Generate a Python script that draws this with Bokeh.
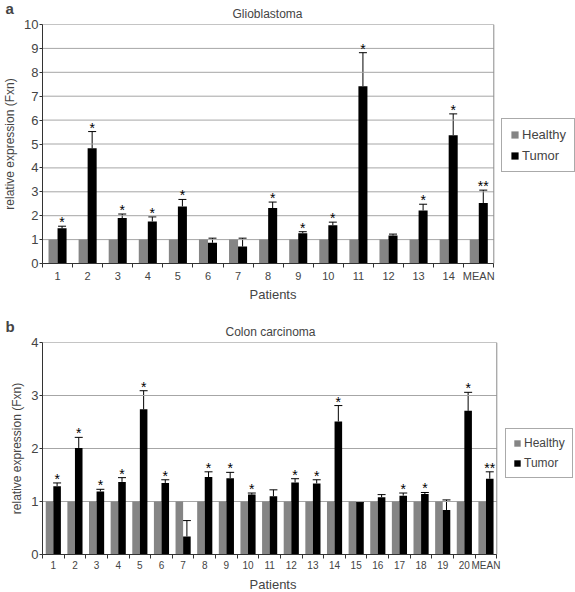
import numpy as np
from bokeh.plotting import figure
from bokeh.models import (ColumnDataSource, Range1d, FixedTicker, Legend, LegendItem,
                          Whisker, TeeHead, Title)
from bokeh.transform import dodge
from bokeh.layouts import column
from bokeh.core.properties import value
from bokeh.embed import file_html
from bokeh.resources import INLINE

# ---- Panel a: Glioblastoma ----
cats_a = ["1", "2", "3", "4", "5", "6", "7", "8", "9", "10", "11", "12", "13", "14", "MEAN"]
healthy_a = [1.0] * 15
tumor_a = [1.47, 4.82, 1.90, 1.76, 2.39, 0.87, 0.71, 2.32, 1.27, 1.60, 7.42, 1.17, 2.22, 5.37, 2.53]
err_a = [1.56, 5.52, 2.07, 1.95, 2.68, 1.06, 1.06, 2.57, 1.33, 1.73, 8.82, 1.23, 2.48, 6.26, 3.07]
star_a = ["*", "*", "*", "*", "*", "", "", "*", "*", "*", "*", "", "*", "*", "**"]

# ---- Panel b: Colon carcinoma ----
cats_b = [str(i) for i in range(1, 21)] + ["MEAN"]
healthy_b = [1.0] * 21
tumor_b = [1.29, 2.01, 1.19, 1.37, 2.74, 1.35, 0.34, 1.46, 1.44, 1.13, 1.10, 1.36, 1.34, 2.51,
           0.97, 1.08, 1.11, 1.14, 0.84, 2.71, 1.43]
err_b = [1.35, 2.21, 1.23, 1.45, 3.09, 1.41, 0.64, 1.56, 1.55, 1.16, 1.22, 1.43, 1.41, 2.81,
         0.98, 1.13, 1.16, 1.17, 1.03, 3.06, 1.56]
star_b = ["*", "*", "*", "*", "*", "*", "", "*", "*", "*", "", "*", "*", "*",
          "", "", "*", "*", "", "*", "**"]

FONT = "Liberation Sans"
W = 575
LEFT = 40


def make_panel(letter, title, cats, healthy, tumor, err, stars, ymax, height,
               border_top, border_bottom, data_px, bw, tick_size, tick_standoff,
               xlab_standoff, leg_font, leg_pad, leg_glyph, leg_loc, title_offset,
               title_standoff, letter_standoff):
    n = len(cats)
    frame_w = W - LEFT
    x_end = -0.5 + frame_w * n / data_px      # frame extends right to hold the legend
    src = ColumnDataSource(dict(x=np.arange(n), h=healthy, t=tumor, e=err, s=stars))
    p = figure(width=W, height=height, output_backend="svg", toolbar_location=None,
               x_range=Range1d(-0.5, x_end), y_range=Range1d(0, ymax),
               min_border_left=LEFT, min_border_right=0,
               min_border_top=border_top, min_border_bottom=border_bottom)
    # panel letter (outermost title, overlapping the title line)
    p.title.text = letter
    p.title.align = "left"
    p.title.offset = -37
    p.title.vertical_align = "bottom"
    p.title.standoff = letter_standoff
    p.title.text_font = FONT
    p.title.text_font_size = "15px"
    p.title.text_font_style = "bold"
    # chart title (next to the plot area)
    p.add_layout(Title(text=title, align="left", offset=title_offset, vertical_align="top",
                       standoff=title_standoff, text_font=FONT, text_font_size="12px",
                       text_font_style="normal"), "above")

    p.outline_line_color = None
    p.xgrid.grid_line_color = None
    p.ygrid.grid_line_color = None

    # horizontal grid lines and plot-area box over the category span only
    yt = list(range(1, ymax))
    p.segment(x0=[-0.5] * len(yt), x1=[n - 0.5] * len(yt), y0=yt, y1=yt,
              line_color="#a6a6a6", line_width=1)

    rh = p.vbar(x=dodge("x", -bw / 2, range=p.x_range), top="h", width=bw, source=src,
                fill_color="#858585", line_color=None)
    rt = p.vbar(x=dodge("x", bw / 2, range=p.x_range), top="t", width=bw, source=src,
                fill_color="#000000", line_color=None)
    p.quad(left=[-0.5], right=[n - 0.5], bottom=[0], top=[ymax], fill_color=None,
           line_color="#8a8a8a", line_width=1)
    p.add_layout(Whisker(base=dodge("x", bw / 2, range=p.x_range), lower="t", upper="e",
                         source=src, dimension="height", line_color="#000000", line_width=1,
                         lower_head=None, upper_head=TeeHead(size=8, line_color="#000000")))
    p.text(x=dodge("x", bw / 2, range=p.x_range), y="e", text="s", source=src,
           text_font=value(FONT), text_font_size="14px", text_align="center",
           text_baseline="bottom", y_offset=4)

    # x axis: labels at category centres, tick marks at category boundaries
    p.xaxis.bounds = (-0.5, n - 0.5)
    p.xaxis.ticker = FixedTicker(ticks=list(range(n)),
                                 minor_ticks=[i + 0.5 for i in range(-1, n)])
    p.xaxis.major_label_overrides = {i: c for i, c in enumerate(cats)}
    p.xaxis.major_tick_line_color = None
    p.xaxis.major_tick_in = 0
    p.xaxis.major_tick_out = 4
    p.xaxis.minor_tick_in = 0
    p.xaxis.minor_tick_out = 4
    p.xaxis.minor_tick_line_color = "#333333"
    p.xaxis.axis_line_color = "#333333"
    p.xaxis.major_label_text_font = FONT
    p.xaxis.major_label_text_font_size = tick_size
    p.xaxis.major_label_standoff = tick_standoff
    # x-axis title centred under the category span
    p.add_layout(Title(text="Patients", align="left", offset=207, vertical_align="bottom",
                       standoff=xlab_standoff, text_font=FONT, text_font_size="13px",
                       text_font_style="normal"), "below")

    p.yaxis.ticker = FixedTicker(ticks=list(range(0, ymax + 1)))
    p.yaxis.minor_tick_line_color = None
    p.yaxis.major_tick_in = 0
    p.yaxis.major_tick_out = 3
    p.yaxis.major_tick_line_color = "#333333"
    p.yaxis.axis_line_color = "#333333"
    p.yaxis.major_label_text_font = FONT
    p.yaxis.major_label_text_font_size = "13px"
    p.yaxis.major_label_standoff = 1
    p.yaxis.axis_label = "relative expression (Fxn)"
    p.yaxis.axis_label_text_font = FONT
    p.yaxis.axis_label_text_font_size = "12px"
    p.yaxis.axis_label_text_font_style = "normal"
    p.yaxis.axis_label_standoff = 4

    legend = Legend(items=[LegendItem(label="Healthy", renderers=[rh]),
                           LegendItem(label="Tumor", renderers=[rt])],
                    location=leg_loc, orientation="vertical",
                    border_line_color="#555555", border_line_width=1,
                    label_text_font=FONT, label_text_font_size=leg_font,
                    glyph_width=leg_glyph, glyph_height=leg_glyph, label_standoff=3,
                    padding=leg_pad, spacing=6, margin=0, background_fill_alpha=1)
    p.add_layout(legend, "center")
    return p


pa = make_panel("a", "Glioblastoma", cats_a, healthy_a, tumor_a, err_a, star_a, 10,
                301, 24, 38, 453, 0.30, "11px", 2, 0, "13px", 8, 9, (459, 91), 190, 4, -25)
pb = make_panel("b", "Colon carcinoma", cats_b, healthy_b, tumor_b, err_b, star_b, 4,
                291, 41, 38, 456, 0.35, "10px", 1, 2, "12px", 7, 8, (463, 76), 183, 4, -25)

p = column(pa, pb, spacing=0)
open("out.html", "w").write(file_html(p, INLINE))
